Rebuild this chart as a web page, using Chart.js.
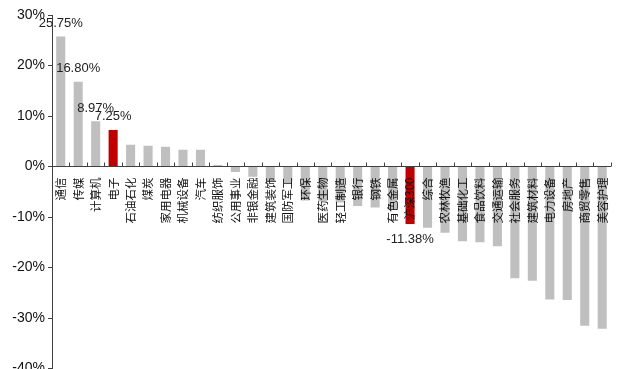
<!DOCTYPE html>
<html lang="zh">
<head>
    <meta charset="UTF-8">
    <title>行业涨跌幅</title>
    <style>
        html,body{margin:0;padding:0;background:#fff;overflow:hidden}
        #wrap{position:relative;width:619px;height:380px}
    </style>
    <script src="https://cdn.jsdelivr.net/npm/chart.js@4/dist/chart.umd.min.js"></script>
</head>
<body>
    <div id="wrap"><canvas id="chart"></canvas></div>

    <script>
        // Industries, sorted by return, with the CSI 300 benchmark in between
        const industries = ['通信', '传媒', '计算机', '电子', '石油石化', '煤炭', '家用电器', '机械设备', '汽车', '纺织服饰',
            '公用事业', '非银金融', '建筑装饰', '国防军工', '环保', '医药生物', '轻工制造', '银行', '钢铁', '有色金属',
            '沪深300', '综合', '农林牧渔', '基础化工', '食品饮料', '交通运输', '社会服务', '建筑材料', '电力设备', '房地产',
            '商贸零售', '美容护理'];
        const returns = [25.75, 16.80, 8.97, 7.25, 4.3, 4.1, 3.9, 3.3, 3.3, 0.3,
            -1.1, -2.0, -2.8, -3.1, -6.7, -6.9, -7.1, -7.8, -8.1, -8.6,
            -11.38, -12.1, -13.1, -14.8, -15.0, -15.8, -22.1, -22.6, -26.3, -26.4,
            -31.5, -32.1];
        // Bars shown in red, and bars with their value written next to them
        const highlighted = ['电子', '沪深300'];
        const labelled = ['通信', '传媒', '计算机', '电子', '沪深300'];
        const yTicks = [-40, -30, -20, -10, 0, 10, 20, 30];

        const GREY = '#bfbfbf';
        const RED = '#c00000';
        const AXIS = '#404040';

        // Small tick marks between the categories, pointing up from the zero line
        const categoryTicks = {
            id: 'categoryTicks',
            afterDatasetsDraw(chart) {
                const x = chart.scales.x, y = chart.scales.y;
                const y0 = y.getPixelForValue(0);
                const ctx = chart.ctx;
                ctx.save();
                ctx.strokeStyle = AXIS;
                ctx.lineWidth = 1;
                ctx.beginPath();
                for (let i = 0; i <= industries.length; i++) {
                    const px = Math.round(x.getPixelForValue(i - 0.5)) + 0.5;
                    ctx.moveTo(px, y0);
                    ctx.lineTo(px, y0 - 4);
                }
                ctx.stroke();
                ctx.restore();
            }
        };

        // Value labels above positive bars and below negative ones
        const valueLabels = {
            id: 'valueLabels',
            afterDatasetsDraw(chart) {
                const meta = chart.getDatasetMeta(0);
                const ctx = chart.ctx;
                ctx.save();
                ctx.font = '13px "Liberation Sans", Arial, sans-serif';
                ctx.fillStyle = '#222';
                ctx.textAlign = 'center';
                ctx.textBaseline = 'middle';
                labelled.forEach(name => {
                    const i = industries.indexOf(name);
                    const bar = meta.data[i];
                    const v = returns[i];
                    const py = v >= 0 ? bar.y - 13 : bar.y + 15;
                    ctx.fillText(v.toFixed(2) + '%', bar.x, py);
                });
                ctx.restore();
            }
        };

        new Chart(document.getElementById('chart'), {
            type: 'bar',
            data: {
                labels: industries,
                datasets: [{
                    data: returns,
                    backgroundColor: industries.map(n => highlighted.includes(n) ? RED : GREY),
                    barPercentage: 0.52,
                    categoryPercentage: 1
                }]
            },
            options: {
                responsive: true,
                maintainAspectRatio: false,
                animation: false,
                layout: { padding: { top: 15, right: 0, bottom: 0, left: 0 } },
                plugins: {
                    legend: { display: false },
                    tooltip: { enabled: false }
                },
                scales: {
                    x: {
                        position: { y: 0 },
                        grid: { display: false },
                        border: { display: true, color: AXIS, width: 1, z: 1 },
                        ticks: {
                            z: 1,
                            autoSkip: false,
                            minRotation: 90,
                            maxRotation: 90,
                            padding: 3,
                            color: '#111',
                            font: { family: '"Noto Sans CJK SC", sans-serif', size: 11.5 }
                        }
                    },
                    y: {
                        min: yTicks[0],
                        max: yTicks[yTicks.length - 1],
                        afterBuildTicks(scale) {
                            scale.ticks = yTicks.map(v => ({ value: v }));
                        },
                        afterFit(scale) {
                            scale.width = 52;
                        },
                        grid: { drawOnChartArea: false, drawTicks: true, tickLength: 4, color: AXIS },
                        border: { display: true, color: AXIS, width: 1 },
                        ticks: {
                            padding: 3,
                            color: '#111',
                            font: { family: '"Liberation Sans", Arial, sans-serif', size: 14 },
                            callback: v => v + '%'
                        }
                    }
                }
            },
            plugins: [categoryTicks, valueLabels]
        });
    </script>
</body>
</html>
